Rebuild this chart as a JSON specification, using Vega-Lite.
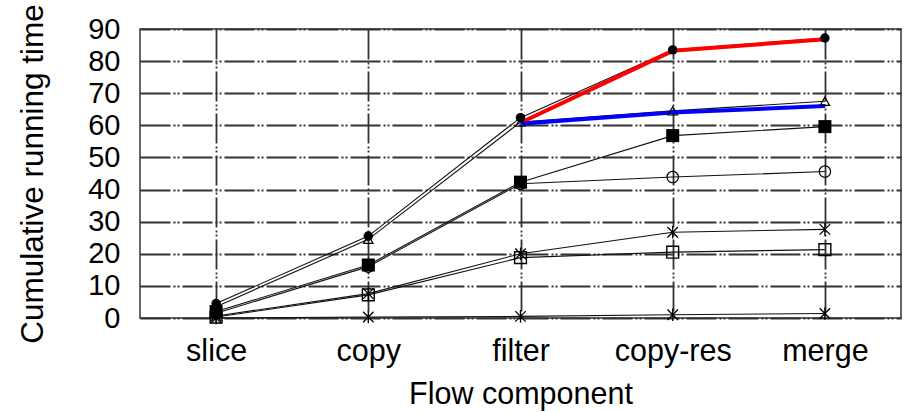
{
  "$schema": "https://vega.github.io/schema/vega-lite/v6.json",
  "width": 761,
  "height": 289,
  "autosize": {"type": "none"},
  "padding": {"left": 140, "top": 29, "right": 5, "bottom": 94},
  "background": "white",
  "config": {
    "font": "Liberation Sans",
    "view": {"stroke": "#333", "strokeWidth": 1.5},
    "axis": {
      "grid": true,
      "gridColor": "#333",
      "gridWidth": 1.8,
      "gridDash": [30, 3, 2, 2, 2, 3],
      "domain": false,
      "ticks": false,
      "labelFontSize": 29,
      "labelColor": "#000",
      "titleFontSize": 30.5,
      "titleFontWeight": "normal",
      "titleColor": "#000"
    }
  },
  "datasets": {
    "s": [
      {"series": "A", "comp": "slice", "v": 4.5},
      {"series": "A", "comp": "copy", "v": 25.5},
      {"series": "A", "comp": "filter", "v": 62.4},
      {"series": "A", "comp": "copy-res", "v": 83.5},
      {"series": "A", "comp": "merge", "v": 87.2},
      {"series": "B", "comp": "slice", "v": 3.5},
      {"series": "B", "comp": "copy", "v": 24.5},
      {"series": "B", "comp": "filter", "v": 61},
      {"series": "B", "comp": "copy-res", "v": 64.5},
      {"series": "B", "comp": "merge", "v": 67.5},
      {"series": "C", "comp": "slice", "v": 2},
      {"series": "C", "comp": "copy", "v": 16.5},
      {"series": "C", "comp": "filter", "v": 42.3},
      {"series": "C", "comp": "copy-res", "v": 56.8},
      {"series": "C", "comp": "merge", "v": 59.6},
      {"series": "D", "comp": "slice", "v": 1.5},
      {"series": "D", "comp": "copy", "v": 16},
      {"series": "D", "comp": "filter", "v": 41.8},
      {"series": "D", "comp": "copy-res", "v": 43.9},
      {"series": "D", "comp": "merge", "v": 45.6},
      {"series": "E", "comp": "slice", "v": 0.6},
      {"series": "E", "comp": "copy", "v": 7.6},
      {"series": "E", "comp": "filter", "v": 20},
      {"series": "E", "comp": "copy-res", "v": 26.7},
      {"series": "E", "comp": "merge", "v": 27.6},
      {"series": "F", "comp": "slice", "v": 0.3},
      {"series": "F", "comp": "copy", "v": 7.2},
      {"series": "F", "comp": "filter", "v": 18.8},
      {"series": "F", "comp": "copy-res", "v": 20.5},
      {"series": "F", "comp": "merge", "v": 21.3},
      {"series": "G", "comp": "slice", "v": 0},
      {"series": "G", "comp": "copy", "v": 0.3},
      {"series": "G", "comp": "filter", "v": 0.5},
      {"series": "G", "comp": "copy-res", "v": 1},
      {"series": "G", "comp": "merge", "v": 1.4}
    ],
    "o": [
      {"series": "red", "comp": "filter", "v": 60.8},
      {"series": "red", "comp": "copy-res", "v": 83.2},
      {"series": "red", "comp": "merge", "v": 86.8},
      {"series": "blue", "comp": "filter", "v": 60.5},
      {"series": "blue", "comp": "copy-res", "v": 64},
      {"series": "blue", "comp": "merge", "v": 66}
    ]
  },
  "encoding": {
    "x": {
      "field": "comp",
      "type": "nominal",
      "sort": ["slice", "copy", "filter", "copy-res", "merge"],
      "scale": {"type": "point", "padding": 0.5},
      "axis": {"labelAngle": 0, "labelFontSize": 30.5, "labelPadding": 18, "title": "Flow component", "titlePadding": 13}
    },
    "y": {
      "field": "v",
      "type": "quantitative",
      "scale": {"domain": [0, 90], "nice": false, "zero": true},
      "axis": {"values": [0, 10, 20, 30, 40, 50, 60, 70, 80, 90], "labelPadding": 20, "title": "Cumulative running time", "titleFontSize": 31.5, "titlePadding": 38}
    }
  },
  "layer": [
    {
      "data": {"name": "s"},
      "mark": {"type": "line", "color": "#111", "strokeWidth": 1.1},
      "encoding": {"detail": {"field": "series", "type": "nominal"}}
    },
    {
      "data": {"name": "o"},
      "transform": [{"filter": "datum.series === 'red'"}],
      "mark": {"type": "line", "color": "#ff0000", "strokeWidth": 4}
    },
    {
      "data": {"name": "o"},
      "transform": [{"filter": "datum.series === 'blue'"}],
      "mark": {"type": "line", "color": "#0000ff", "strokeWidth": 4}
    },
    {
      "data": {"name": "s"},
      "transform": [{"filter": "datum.series === 'A'"}],
      "mark": {"type": "point", "shape": "circle", "filled": true, "color": "#000", "opacity": 1, "size": 90}
    },
    {
      "data": {"name": "s"},
      "transform": [{"filter": "datum.series === 'B'"}],
      "mark": {"type": "point", "shape": "triangle-up", "filled": false, "color": "#000", "opacity": 1, "size": 90, "strokeWidth": 1.2}
    },
    {
      "data": {"name": "s"},
      "transform": [{"filter": "datum.series === 'C'"}],
      "mark": {"type": "point", "shape": "square", "filled": true, "color": "#000", "opacity": 1, "size": 170}
    },
    {
      "data": {"name": "s"},
      "transform": [{"filter": "datum.series === 'D'"}],
      "mark": {"type": "point", "shape": "circle", "filled": false, "color": "#000", "opacity": 1, "size": 130, "strokeWidth": 1.2}
    },
    {
      "data": {"name": "s"},
      "transform": [{"filter": "datum.series === 'F'"}],
      "mark": {"type": "point", "shape": "square", "filled": false, "color": "#000", "opacity": 1, "size": 140, "strokeWidth": 1.4}
    },
    {
      "data": {"name": "s"},
      "transform": [{"filter": "datum.series === 'E' || datum.series === 'G'"}],
      "mark": {"type": "point", "shape": "M-1,-1L1,1M-1,1L1,-1M0,-1.2L0,1.2", "filled": false, "color": "#000", "opacity": 1, "size": 110, "strokeWidth": 1.3}
    }
  ]
}
